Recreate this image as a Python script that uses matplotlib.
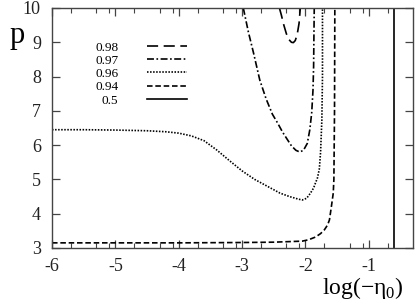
import numpy as np
import matplotlib
matplotlib.use('Agg')
import matplotlib.pyplot as plt

plt.rcParams['font.family'] = ['Liberation Serif', 'DejaVu Serif']
plt.rcParams['mathtext.fontset'] = 'custom'
plt.rcParams['mathtext.rm'] = 'Liberation Serif'
plt.rcParams['lines.scale_dashes'] = False

# courbes (x = log(-eta0), y = p)
x_098 = [-2.41, -2.38, -2.34, -2.30, -2.26, -2.22, -2.19, -2.16, -2.13, -2.10, -2.08]
p_098 = [10.0, 9.80, 9.50, 9.25, 9.08, 9.00, 8.99, 9.05, 9.22, 9.55, 10.0]

x_097 = [-2.98, -2.90, -2.82, -2.72, -2.62, -2.52, -2.44, -2.36, -2.28,
         -2.22, -2.15, -2.09, -2.03, -1.97, -1.93, -1.90, -1.88, -1.87,
         -1.865, -1.86]
p_097 = [10.0, 9.30, 8.70, 7.90, 7.35, 6.90, 6.65, 6.38, 6.15,
         5.98, 5.85, 5.80, 5.85, 6.05, 6.45, 6.95, 7.60, 8.30,
         9.20, 10.0]

x_096 = [-6.0, -5.5, -5.0, -4.5, -4.2, -4.0, -3.8, -3.6, -3.4, -3.2, -3.0,
         -2.8, -2.6, -2.4, -2.25, -2.12, -2.05, -1.98, -1.92, -1.87,
         -1.84, -1.81, -1.78, -1.76, -1.74, -1.73, -1.73]
p_096 = [6.45, 6.45, 6.44, 6.42, 6.39, 6.35, 6.27, 6.13, 5.86, 5.55, 5.25,
         5.00, 4.80, 4.60, 4.50, 4.43, 4.40, 4.45, 4.60, 4.75,
         4.90, 5.04, 5.30, 5.80, 6.73, 8.0, 10.0]

x_094 = [-6.0, -5.0, -4.0, -3.0, -2.5, -2.2, -2.05, -1.95, -1.84, -1.76,
         -1.70, -1.65, -1.62, -1.59, -1.56, -1.55, -1.54, -1.535]
p_094 = [3.15, 3.15, 3.15, 3.16, 3.17, 3.19, 3.20, 3.24, 3.32, 3.42,
         3.53, 3.67, 3.82, 4.20, 4.60, 5.00, 7.00, 10.0]

x_05 = [-0.60, -0.60]
p_05 = [3.0, 10.0]

x_labels = ['-6', '-5', '-4', '-3', '-2', '-1']
x_ticks = [-6, -5, -4, -3, -2, -1]
y_ticks = [3, 4, 5, 6, 7, 8, 9, 10]

fig = plt.figure(figsize=(4.15, 3.03), dpi=100)
ax = fig.add_axes([52 / 415, 1 - 248 / 303, 361 / 415, 240 / 303])

lw = 1.2
ax.plot(x_098, p_098, color='black', lw=lw, dashes=(8, 4), label='0.98')
ax.plot(x_097, p_097, color='black', lw=lw, dashes=(5, 1.8, 1.2, 1.8), label='0.97')
ax.plot(x_096, p_096, color='black', lw=lw, dashes=(1.1, 1.1), label='0.96')
ax.plot(x_094, p_094, color='black', lw=lw, dashes=(4, 2), label='0.94')
ax.plot(x_05, p_05, color='black', lw=lw, label='0.5')

ax.set_xlim(-6, np.log10(0.5))
ax.set_ylim(3, 10)
ax.set_xticks(x_ticks)
ax.set_xticklabels(x_labels, fontfamily='Liberation Serif', fontsize=13)
ax.set_yticks(y_ticks)
ax.set_yticklabels([str(v) for v in y_ticks], fontfamily='Liberation Serif', fontsize=13)
minor = [d + np.log10(m) for d in range(-6, 0) for m in (2, 5, 8)]
ax.set_xticks([m for m in minor if m < np.log10(0.5)], minor=True)

for s in ax.spines.values():
    s.set_color('#444444')
    s.set_linewidth(1.0)
ax.tick_params(which='both', direction='in', top=True, right=True,
               colors='#444444', labelcolor='#222222')
ax.tick_params(which='major', length=6, width=0.9)
ax.tick_params(which='minor', length=3.5, width=0.8)
ax.tick_params(axis='x', pad=7)
ax.tick_params(axis='y', pad=8)

leg = ax.legend(loc='center right', bbox_to_anchor=(0.374, 0.725),
                frameon=False, markerfirst=False, fontsize=9.5,
                handlelength=3.0, handletextpad=2.2, labelspacing=0.08,
                borderpad=0, borderaxespad=0)

fig.text(10 / 415, 1 - 35 / 303, 'p', fontsize=22, ha='left', va='center')
fig.text(363 / 415, 1 - 288 / 303, 'log(−η$_0$)', fontsize=17,
         ha='center', va='center')

fig.savefig('out.png', dpi=100)
